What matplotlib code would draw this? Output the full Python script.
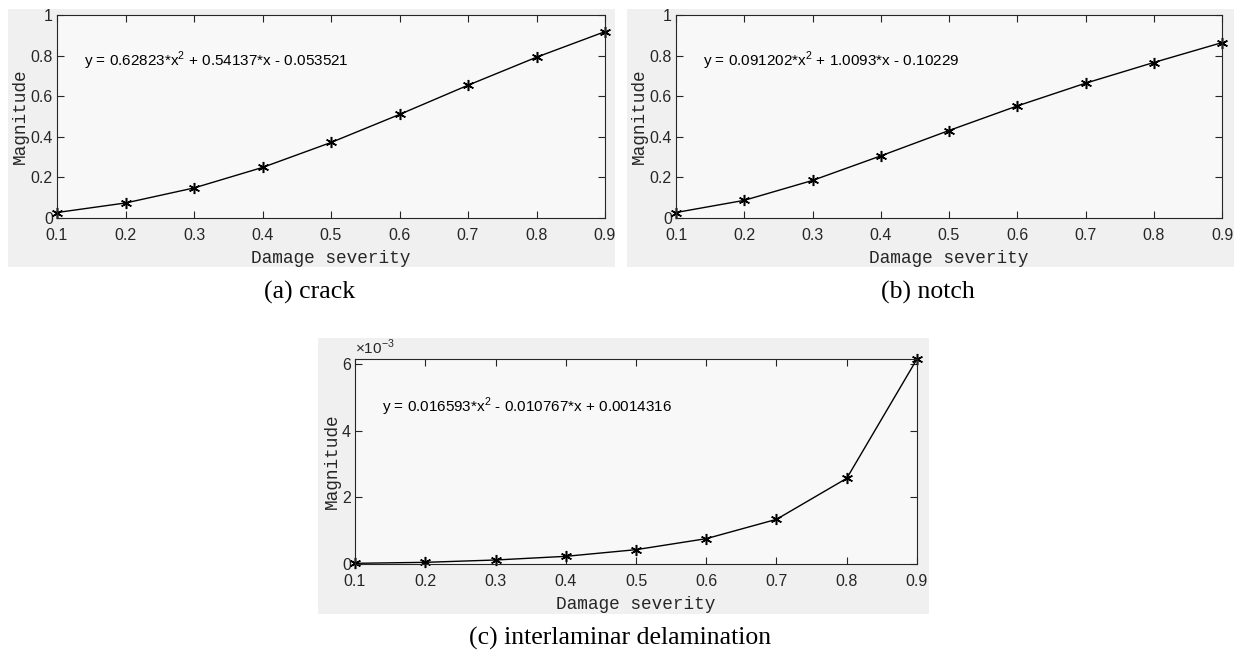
import matplotlib
matplotlib.use("Agg")
import matplotlib.pyplot as plt
from matplotlib.patches import Rectangle

# Damage severity levels and fitted magnitudes
severity = [0.1, 0.2, 0.3, 0.4, 0.5, 0.6, 0.7, 0.8, 0.9]
crack_mag = [0.027, 0.074, 0.148, 0.249, 0.372, 0.510, 0.654, 0.792, 0.918]
notch_mag = [0.027, 0.087, 0.185, 0.306, 0.431, 0.552, 0.664, 0.766, 0.864]
delam_mag_e3 = [0.02, 0.05, 0.12, 0.23, 0.43, 0.76, 1.34, 2.57, 6.15]  # x 1e-3

crack_fit = "y = 0.62823*x$^2$ + 0.54137*x - 0.053521"
notch_fit = "y = 0.091202*x$^2$ + 1.0093*x - 0.10229"
delam_fit = "y = 0.016593*x$^2$ - 0.010767*x + 0.0014316"

captions = ["(a) crack", "(b) notch", "(c) interlaminar delamination"]

plt.rcParams["font.family"] = "Liberation Sans"
plt.rcParams["mathtext.fontset"] = "custom"
plt.rcParams["mathtext.rm"] = "Liberation Sans"

W, H = 1242, 654
fig = plt.figure(figsize=(W / 100, H / 100), dpi=100)
fig.patch.set_facecolor("white")


def box(x0, y0, x1, y1):
    # pixel box (top-left origin) -> figure fraction rect
    return [x0 / W, 1 - y1 / H, (x1 - x0) / W, (y1 - y0) / H]


def panel(bg, ax_px, x, y, fit, fit_pos, yticks, ylim):
    fig.patches.append(Rectangle((bg[0], bg[1]), bg[2], bg[3],
                                 transform=fig.transFigure, facecolor="#f0f0f0",
                                 edgecolor="none", zorder=-10))
    ax = fig.add_axes(box(*ax_px))
    ax.set_facecolor("#f8f8f8")
    ax.plot(x, y, color="black", lw=1.0, marker=(6, 2, 0), ms=8, mew=1.1,
            clip_on=False)
    ax.set_xlim(0.1, 0.9)
    ax.set_ylim(*ylim)
    ax.set_xticks(severity)
    ax.set_xticklabels([f"{v:g}" for v in severity])
    ax.set_yticks(yticks)
    ax.set_yticklabels([f"{v:g}" for v in yticks])
    ax.tick_params(direction="in", length=5, width=0.8, top=True, right=True,
                   labelsize=11.5, colors="#262626")
    ax.tick_params(axis="x", pad=7)
    ax.tick_params(axis="y", pad=3)
    for s in ax.spines.values():
        s.set_color("#262626")
        s.set_linewidth(0.8)
    ax.set_xlabel("Damage severity", family="Liberation Mono", fontsize=12.8,
                  color="#262626", labelpad=5)
    ax.set_ylabel("Magnitude", family="Liberation Mono", fontsize=12.8,
                  color="#262626", labelpad=1)
    ax.text(fit_pos[0], fit_pos[1], fit, fontsize=11, va="center",
            transform=ax.transData)
    return ax


# (a) crack
bg_a = box(8, 9, 615, 267)
panel(bg_a, (57, 15, 605, 218), severity, crack_mag, crack_fit, (0.139, 0.775),
      [0, 0.2, 0.4, 0.6, 0.8, 1], (0, 1))
fig.text(310 / W, 1 - 292 / H, captions[0], family="Liberation Serif",
         fontsize=18.5, ha="center", va="center")

# (b) notch
bg_b = box(627, 9, 1234, 267)
panel(bg_b, (676, 15, 1222, 218), severity, notch_mag, notch_fit, (0.139, 0.775),
      [0, 0.2, 0.4, 0.6, 0.8, 1], (0, 1))
fig.text(928 / W, 1 - 292 / H, captions[1], family="Liberation Serif",
         fontsize=18.5, ha="center", va="center")

# (c) interlaminar delamination
bg_c = box(318, 338, 929, 614)
ax_c = panel(bg_c, (355, 359, 917, 564), severity, delam_mag_e3, delam_fit,
             (0.138, 4.72), [0, 2, 4, 6], (0, 6.15))
ax_c.text(0.0, 1.01, r"$\times$10$^{-3}$", transform=ax_c.transAxes,
          fontsize=11, color="#262626", va="bottom", ha="left")
fig.text(620 / W, 1 - 638 / H, captions[2], family="Liberation Serif",
         fontsize=18.5, ha="center", va="center")

fig.savefig("out.png", dpi=100)
